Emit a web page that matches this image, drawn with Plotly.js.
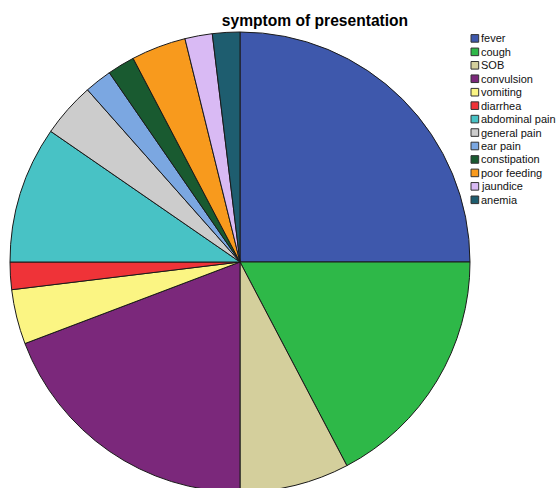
<!DOCTYPE html>
<html>
<head>
<meta charset="utf-8">
<script src="https://cdn.plot.ly/plotly-3.0.1.min.js"></script>
<style>
  html, body { margin: 0; padding: 0; overflow: hidden; background: #fff; }
  #chart { width: 556px; height: 500px; }
</style>
</head>
<body>
<div id="chart"></div>
<script>
// Presenting symptoms (number of cases)
const symptoms = ["fever", "cough", "SOB", "convulsion", "vomiting", "diarrhea",
  "abdominal pain", "general pain", "ear pain", "constipation", "poor feeding",
  "jaundice", "anemia"];
const cases = [13, 9, 4, 10, 2, 1, 5, 2, 1, 1, 2, 1, 1];
const sliceColors = ["#3E58AC", "#2EB848", "#D4CF9C", "#7B287B", "#FBF583", "#EF3338",
  "#48C2C5", "#CCCCCC", "#7BA7E1", "#195A30", "#F89A1D", "#D9BAF4", "#1E5D6F"];

const W = 556, H = 500;
const M = { l: 10, r: 0, t: 32, b: 8 };
const plotW = W - M.l - M.r, plotH = H - M.t - M.b;
const px2x = px => (px - M.l) / plotW;
const py2y = py => 1 - (py - M.t) / plotH;

const trace = {
  type: "pie",
  labels: symptoms,
  values: cases,
  sort: false,
  direction: "clockwise",
  rotation: 0,
  textinfo: "none",
  marker: { colors: sliceColors, line: { color: "#1a1a1a", width: 1 } },
  domain: { x: [0, 460 / plotW], y: [0, 1] },
  showlegend: false
};

// Compact legend: swatches and labels stacked on the right
const shapes = [];
const annotations = [];
const rowTop = 38.4, rowStep = 13.45;
symptoms.forEach((name, i) => {
  const cy = rowTop + rowStep * i;
  shapes.push({
    type: "rect", xref: "paper", yref: "paper",
    x0: px2x(471), x1: px2x(478.7),
    y0: py2y(cy + 3.8), y1: py2y(cy - 3.8),
    fillcolor: sliceColors[i], line: { color: "#333", width: 1 }
  });
  annotations.push({
    xref: "paper", yref: "paper",
    x: px2x(479), y: py2y(cy),
    xanchor: "left", yanchor: "middle",
    text: name, showarrow: false,
    font: { family: "Liberation Sans, Arial, sans-serif", size: 11, color: "#111" }
  });
});

const layout = {
  width: W, height: H,
  margin: M,
  paper_bgcolor: "#fff",
  title: {
    text: "<b>symptom of presentation</b>",
    x: px2x(315), xref: "paper", xanchor: "center",
    y: 1 - 21 / H, yref: "container", yanchor: "middle",
    font: { family: "Liberation Sans, Arial, sans-serif", size: 15.6, color: "#000" }
  },
  shapes: shapes,
  annotations: annotations
};

Plotly.newPlot("chart", [trace], layout, { displayModeBar: false, staticPlot: true });
</script>
</body>
</html>
